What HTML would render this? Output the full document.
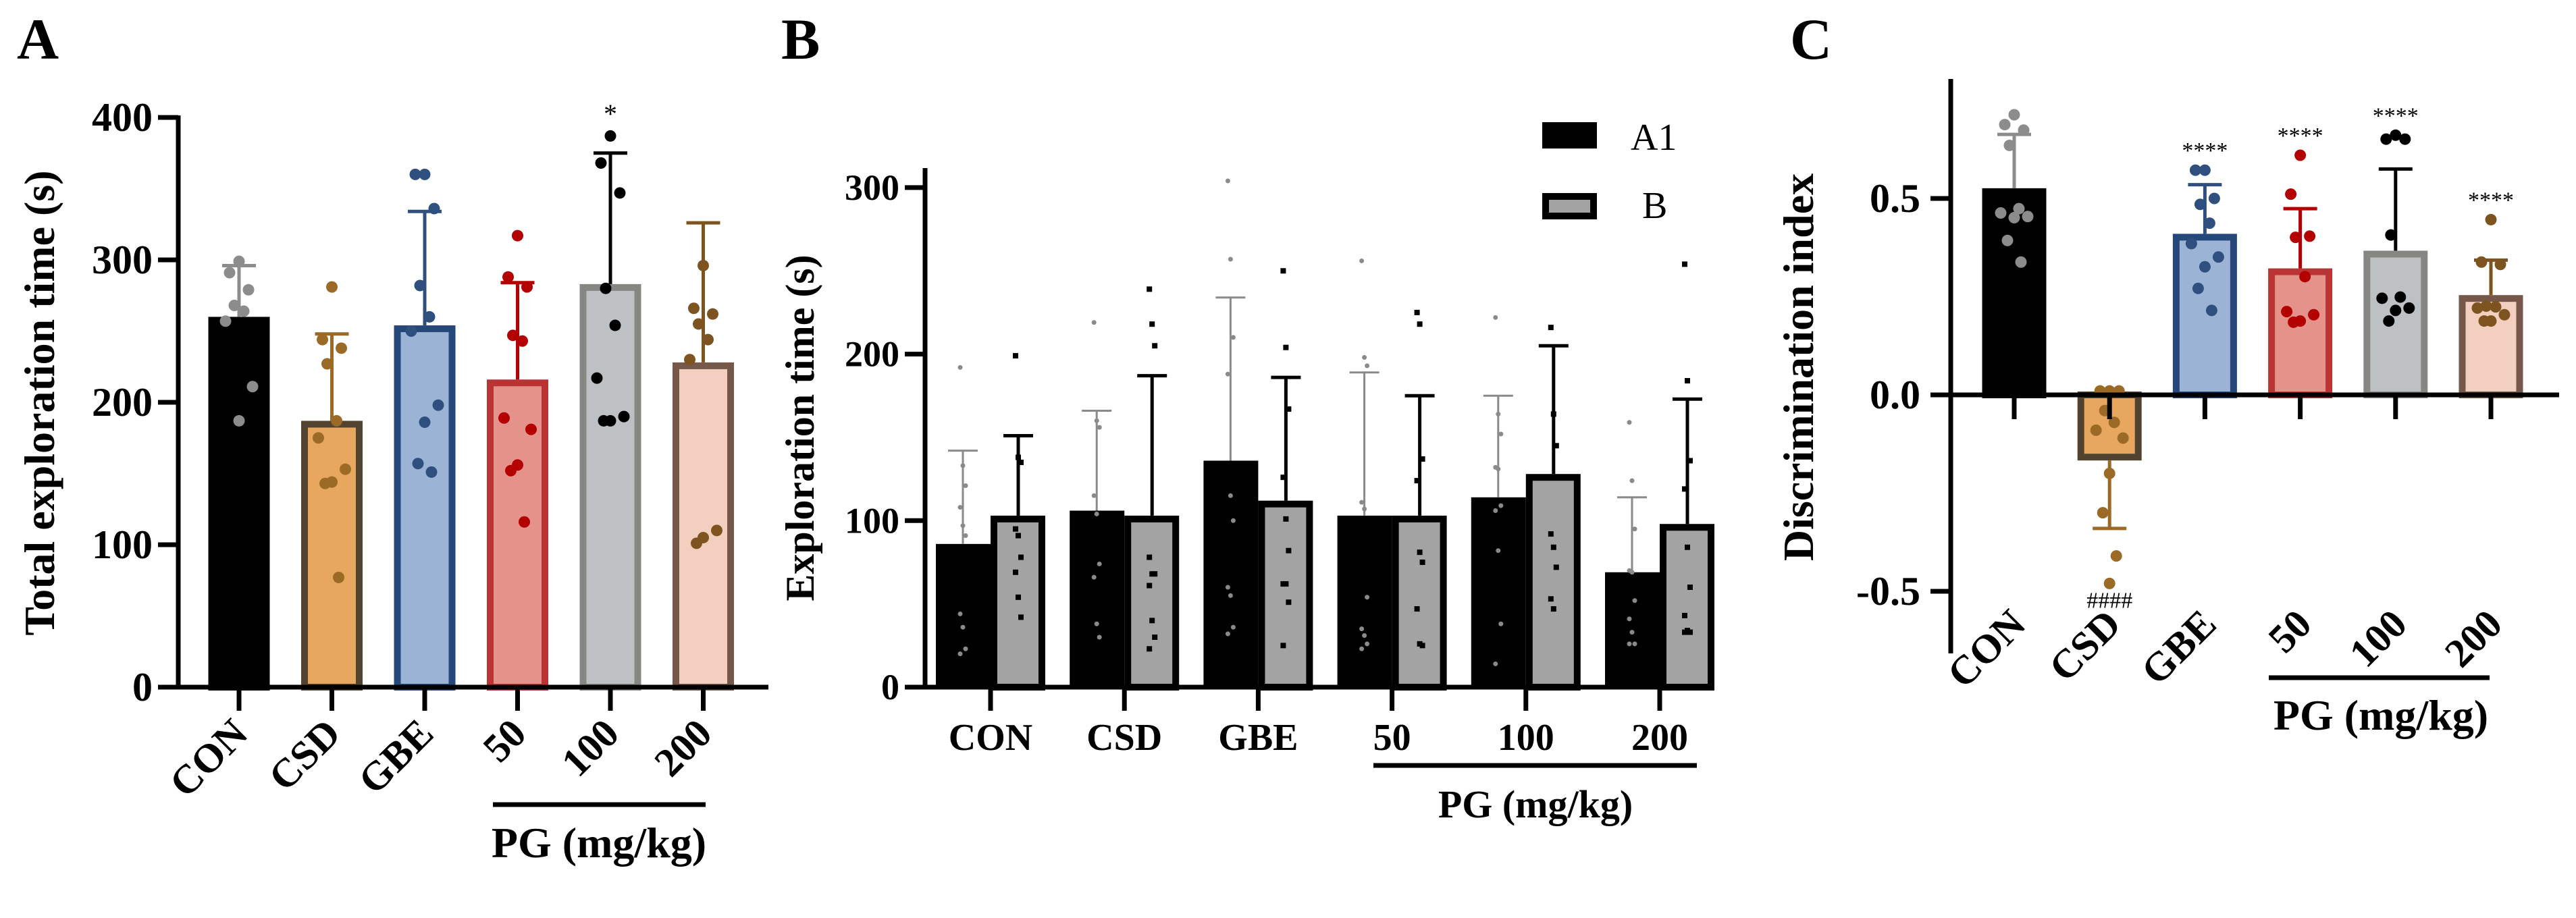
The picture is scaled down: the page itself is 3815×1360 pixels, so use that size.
<!DOCTYPE html>
<html><head><meta charset="utf-8"><style>
html,body{margin:0;padding:0;background:#fff;}
svg{display:block;font-family:"Liberation Serif",serif;font-weight:bold;}
</style></head><body>
<svg id="fig" width="3815" height="1360" viewBox="0 0 3815 1360" xmlns="http://www.w3.org/2000/svg">
<g id="pA"></g>
<g id="pB"></g>
<g id="pC"></g>
</svg>
<script>
const groups = ["CON","CSD","GBE","50","100","200"];
// Panel A
const aMeans = [260,187,254,216,283,228];
const aSD = [296,248,334,284,375,326];
const aPoints = [
 [299,291,279,268,264,257,211,187],
 [281,244,238,227,187,175,153,144,143,77],
 [360,360,336,282,260,250,198,186,157,151],
 [317,288,281,247,243,189,181,156,152,116],
 [387,368,347,280,254,217,190,187,187],
 [296,266,262,255,244,230,110,105,101]];
const aTicks = [0,100,200,300,400];
// Panel B
const bA1Means = [86,106,136,103,114,69];
const bA1SD = [142,166,234,189,175,114];
const bBMeans = [103,103,112,103,128,98];
const bBSD = [151,187,186,175,205,173];
const bA1Points = [
 [192,133,121,108,97,91,44,36,23,20],
 [219,160,156,115,104,74,66,38,30],
 [304,257,210,188,115,100,60,55,36,32],
 [256,198,193,111,107,54,35,31,26,23],
 [222,164,152,132,131,109,106,82,38,14],
 [159,124,95,70,69,52,41,33,26,26]];
const bBPoints = [
 [199,138,135,95,91,78,69,54,42],
 [239,218,205,78,68,68,61,40,30,23],
 [250,204,167,126,101,82,62,62,51,25],
 [225,218,137,124,81,75,47,26,25],
 [216,164,145,92,84,72,53,47],
 [254,184,136,119,84,60,43,34,33,33]];
const bTicks = [0,100,200,300];
// Panel C
const cMeans = [0.526,-0.167,0.41,0.322,0.367,0.254];
const cSD = [0.663,-0.34,0.535,0.474,0.575,0.343];
const cPoints = [
 [0.713,0.688,0.674,0.635,0.474,0.463,0.454,0.451,0.393,0.338],
 [0.01,0.01,0.01,-0.04,-0.07,-0.09,-0.11,-0.2,-0.3,-0.41,-0.48],
 [0.572,0.572,0.5,0.485,0.437,0.385,0.351,0.326,0.271,0.215],
 [0.61,0.511,0.404,0.401,0.301,0.212,0.204,0.188,0.185],
 [0.661,0.651,0.651,0.407,0.249,0.246,0.221,0.215,0.188],
 [0.446,0.338,0.332,0.226,0.224,0.221,0.204,0.188,0.188]];
const cTicks = [-0.5,0.0,0.5];
const cTickLabels = ["-0.5","0.0","0.5"];
const cMarks = ["","####","****","****","****","****"];
const aMarks = ["","","","","*",""];

const fills = ["#000000","#e8a75f","#9bb4d6","#e5928a","#bdc1c3","#f3cfc0"];
const strokes = ["#000000","#51432f","#26477a","#ba3434","#868682","#75584a"];
const dotCols = ["#8c8c8c","#9a6a26","#2f4f7f","#b30000","#000000","#7d5320"];
const errCols = ["#8c8c8c","#9a6a26","#2f4f7f","#b30000","#000000","#7d5320"];

const NS="http://www.w3.org/2000/svg";
function mk(parent,tag,attrs,text){const e=document.createElementNS(NS,tag);for(const k in attrs)e.setAttribute(k,attrs[k]);if(text!==undefined)e.textContent=text;parent.appendChild(e);return e;}
function jit(i){const pat=[0,-14,14,-7,7,-20,20,0,-10,10,0];return pat[i%pat.length];}

// ---------- Panel A ----------
(function(){
 const g=document.getElementById('pA');
 const x0=264, y0=1018, pxPer=211/100;
 const ya=v=>y0-v*pxPer;
 const xa=i=>354+i*137.5;
 let t=mk(g,'text',{x:25,y:87,'font-size':86});t.textContent='A';
 
 for(let i=0;i<6;i++){
  const cx=xa(i),w=91;
  let r=mk(g,'rect',{x:cx-w/2+5,y:ya(aMeans[i])+5,width:w-10,height:y0-ya(aMeans[i])-5,fill:fills[i],stroke:strokes[i],'stroke-width':10});
  
  let e=mk(g,'path',{d:`M${cx} ${ya(aMeans[i])} V${ya(aSD[i])} M${cx-25} ${ya(aSD[i])} H${cx+25}`,stroke:errCols[i],'stroke-width':5,fill:'none'});
  
  aPoints[i].forEach((v,k)=>{let c=mk(g,'circle',{cx:cx+jit(k),cy:ya(v),r:8.5,fill:dotCols[i]});
   });
  if(aMarks[i]){let s=mk(g,'text',{x:cx,y:ya(aSD[i])-45,'font-size':40,'text-anchor':'middle','font-weight':'normal'},aMarks[i]);
   }
  mk(g,'line',{x1:cx,y1:y0,x2:cx,y2:1053,stroke:'#000','stroke-width':7});
  let l=mk(g,'text',{x:0,y:0,'font-size':60,'text-anchor':'end',transform:`translate(${cx+16},${1090}) rotate(-45)`},groups[i]);
  
 }
 mk(g,'line',{x1:x0,y1:y0,x2:1138,y2:y0,stroke:'#000','stroke-width':7});
 mk(g,'line',{x1:x0,y1:ya(400)-3,x2:x0,y2:y0+3,stroke:'#000','stroke-width':7});
 aTicks.forEach(v=>{mk(g,'line',{x1:x0-30,y1:ya(v),x2:x0,y2:ya(v),stroke:'#000','stroke-width':7});
  let tl=mk(g,'text',{x:x0-38,y:ya(v)+20,'font-size':60,'text-anchor':'end'},String(v));
  });
 let yt=mk(g,'text',{x:0,y:0,'font-size':64,'text-anchor':'middle',transform:'translate(80,597) rotate(-90)'},'Total exploration time (s)');
 
 mk(g,'line',{x1:730,y1:1192,x2:1045,y2:1192,stroke:'#000','stroke-width':7});
 let pg=mk(g,'text',{x:887,y:1270,'font-size':64,'text-anchor':'middle'},'PG (mg/kg)');
 
})();

// ---------- Panel B ----------
(function(){
 const g=document.getElementById('pB');
 const x0=1370,y0=1018,pxPer=246.7/100;
 const yb=v=>y0-v*pxPer;
 const xb=i=>1467+i*198.2;
 let t=mk(g,'text',{x:1157,y:87,'font-size':86},'B');
 
 for(let i=0;i<6;i++){
  const cx=xb(i);
  let r1=mk(g,'rect',{x:cx-81,y:yb(bA1Means[i]),width:81,height:y0-yb(bA1Means[i]),fill:'#000'});
  
  let r2=mk(g,'rect',{x:cx+5,y:yb(bBMeans[i])+5,width:71,height:y0-yb(bBMeans[i])-5,fill:'#a3a3a3',stroke:'#000','stroke-width':10});
  
  const ax=cx-41,bx=cx+41;
  let e1=mk(g,'path',{d:`M${ax} ${yb(bA1Means[i])} V${yb(bA1SD[i])} M${ax-22} ${yb(bA1SD[i])} H${ax+22}`,stroke:'#8a8a8a','stroke-width':3,fill:'none'});
  
  let e2=mk(g,'path',{d:`M${bx} ${yb(bBMeans[i])} V${yb(bBSD[i])} M${bx-22} ${yb(bBSD[i])} H${bx+22}`,stroke:'#000','stroke-width':5,fill:'none'});
  
  bA1Points[i].forEach((v,k)=>{let c=mk(g,'circle',{cx:ax+(k%3-1)*4,cy:yb(v),r:3.5,fill:'#8a8a8a'});
   });
  bBPoints[i].forEach((v,k)=>{let s=mk(g,'rect',{x:bx-4+(k%3-1)*4,y:yb(v)-4,width:8,height:8,fill:'#000'});
   });
  mk(g,'line',{x1:cx,y1:y0,x2:cx,y2:1053,stroke:'#000','stroke-width':7});
  let l=mk(g,'text',{x:cx,y:1111,'font-size':56,'text-anchor':'middle'},groups[i]);
  
 }
 mk(g,'line',{x1:x0,y1:y0,x2:2530,y2:y0,stroke:'#000','stroke-width':7});
 mk(g,'line',{x1:x0,y1:249,x2:x0,y2:y0+3,stroke:'#000','stroke-width':7});
 bTicks.forEach(v=>{mk(g,'line',{x1:x0-30,y1:yb(v),x2:x0,y2:yb(v),stroke:'#000','stroke-width':7});
  let tl=mk(g,'text',{x:x0-38,y:yb(v)+18,'font-size':54,'text-anchor':'end'},String(v));
  });
 let yt=mk(g,'text',{x:0,y:0,'font-size':60,'text-anchor':'middle',transform:'translate(1205,634) rotate(-90)'},'Exploration time (s)');
 
 mk(g,'line',{x1:2034,y1:1134,x2:2513,y2:1134,stroke:'#000','stroke-width':7});
 let pg=mk(g,'text',{x:2274,y:1211,'font-size':58,'text-anchor':'middle'},'PG (mg/kg)');
 
 let lg=mk(g,'g',{});
 let l1=mk(lg,'rect',{x:2284,y:181,width:81,height:39,fill:'#000'});
 
 let t1=mk(lg,'text',{x:2415,y:222,'font-size':56,'font-weight':'normal'},'A1');
 
 let l2=mk(lg,'rect',{x:2289,y:291,width:71,height:29,fill:'#a3a3a3',stroke:'#000','stroke-width':10});
 
 let t2=mk(lg,'text',{x:2432,y:323,'font-size':56,'font-weight':'normal'},'B');
 
})();

// ---------- Panel C ----------
(function(){
 const g=document.getElementById('pC');
 const x0=2889,y0=585,pxPer=291/0.5;
 const yc=v=>y0-v*pxPer;
 const xc=i=>2983+i*141.2;
 let t=mk(g,'text',{x:2651,y:87,'font-size':86},'C');
 
 for(let i=0;i<6;i++){
  const cx=xc(i),w=95,m=cMeans[i];
  const top=Math.min(yc(m),y0),h=Math.abs(yc(m)-y0);
  let r=mk(g,'rect',{x:cx-w/2+5,y:top+ (m>=0?5:0),width:w-10,height:h-5,fill:fills[i],stroke:strokes[i],'stroke-width':10});
  
  let e=mk(g,'path',{d:`M${cx} ${yc(m)} V${yc(cSD[i])} M${cx-25} ${yc(cSD[i])} H${cx+25}`,stroke:errCols[i],'stroke-width':5,fill:'none'});
  
  cPoints[i].forEach((v,k)=>{let c=mk(g,'circle',{cx:cx+jit(k),cy:yc(v),r:8.5,fill:dotCols[i]});
   });
  if(cMarks[i]){
   const my = i===1 ? yc(Math.min(...cPoints[i]))+36 : yc(Math.max(cSD[i],...cPoints[i]))-18;
   let s=mk(g,'text',{x:cx,y:my,'font-size':34,'text-anchor':'middle','font-weight':'normal'},cMarks[i]);
   }
  mk(g,'line',{x1:cx,y1:y0,x2:cx,y2:621,stroke:'#000','stroke-width':7});
  let l=mk(g,'text',{x:0,y:0,'font-size':60,'text-anchor':'end',transform:`translate(${cx+20},${928}) rotate(-45)`},groups[i]);
  
 }
 mk(g,'line',{x1:x0,y1:y0,x2:3790,y2:y0,stroke:'#000','stroke-width':7});
 mk(g,'line',{x1:x0,y1:117,x2:x0,y2:968,stroke:'#000','stroke-width':7});
 cTicks.forEach((v,k)=>{mk(g,'line',{x1:x0-30,y1:yc(v),x2:x0,y2:yc(v),stroke:'#000','stroke-width':7});
  let tl=mk(g,'text',{x:x0-45,y:yc(v)+20,'font-size':60,'text-anchor':'end'},cTickLabels[k]);
  });
 let yt=mk(g,'text',{x:0,y:0,'font-size':64,'text-anchor':'middle',transform:'translate(2685,544) rotate(-90)'},'Discrimination index');
 
 mk(g,'line',{x1:3360,y1:1004,x2:3687,y2:1004,stroke:'#000','stroke-width':7});
 let pg=mk(g,'text',{x:3526,y:1081,'font-size':64,'text-anchor':'middle'},'PG (mg/kg)');
 
})();
</script>
</body></html>
